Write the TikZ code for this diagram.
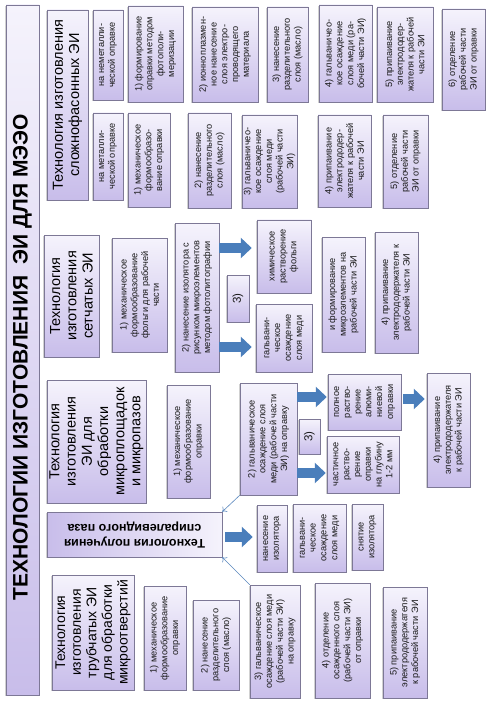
\documentclass[tikz,border=0pt]{standalone}
\usepackage{fontspec}
\setmainfont{Liberation Sans}
\usetikzlibrary{arrows.meta,shadows}
\definecolor{boxlight}{RGB}{245,243,252}
\definecolor{boxdark}{RGB}{200,189,234}
\definecolor{boxline}{RGB}{125,120,150}
\definecolor{arrowblue}{RGB}{74,126,187}
\definecolor{thinblue}{RGB}{90,135,190}
\definecolor{txt}{RGB}{25,25,25}
\tikzset{
  boxbase/.style={draw=boxline, line width=0.5pt, inner sep=0.5pt, align=center, text=txt,
    drop shadow={shadow xshift=-1pt, shadow yshift=-1.2pt, fill=black, opacity=0.18}},
  bx/.style={boxbase, rotate=90, top color=boxlight, bottom color=boxdark,
    font=\fontsize{9.2}{10.8}\selectfont},
  hdr/.style={bx, font=\fontsize{14.5}{16.2}\selectfont, text=black},
  blockarrow/.style={draw=arrowblue, line width=10pt, -{Triangle[length=11pt,width=20pt]}},
  thinarrow/.style={draw=thinblue, line width=0.6pt, -{To[length=4pt,width=7pt]}}
}
\newcommand\bx[7][bx]{\node[#1,minimum width={(#6-#5)*1pt},minimum height={(#4-#3)*1pt}] (#2) at ({(#3+#4)/2},{-(#5+#6)/2}) {#7};}
\begin{document}
\begin{tikzpicture}[x=1pt,y=1pt]
\useasboundingbox (0,0) rectangle (490,-703);
\fill[white] (0,0) rectangle (490,-703);

% title
\bx[hdr,font=\bfseries\fontsize{21}{24}\selectfont]{title}{6}{39}{5}{695}{ТЕХНОЛОГИИ ИЗГОТОВЛЕНИЯ\ \ ЭИ ДЛЯ МЭЭО\hspace*{14pt}}

% complex-shaped
\bx[hdr]{h1}{47}{88}{10}{200}{Технология изготовления\\сложнофасонных ЭИ}
\bx{a1}{93}{123}{10}{100}{на неметалли-\\ческой оправке}
\bx{a2}{128}{183}{6}{102}{1) формирование\\оправки методом\\фотополи-\\меризации}
\bx{a3}{192}{258}{7}{102}{2) ионноплазмен-\\ное нанесение\\слоя электро-\\проводящего\\материала}
\bx{a4}{267}{308}{7}{102}{3) нанесение\\разделительного\\слоя (масло)}
\bx{a5}{319}{372}{5}{102}{4) гальваничео-\\кое осаждение\\слоя меди (ра-\\бочей части ЭИ)}
\bx{a6}{377}{433}{7}{102}{5) припаивание\\электрододер-\\жателя к рабочей\\части ЭИ}
\bx{a7}{442}{485}{9}{110}{6) отделение\\рабочей части\\ЭИ от оправки}

\bx{b1}{93}{123}{113}{200}{на металли-\\ческой оправке}
\bx{b2}{128}{170}{113}{207}{1) механическое\\формообразо-\\вание оправки}
\bx{b3}{188}{231}{113}{208}{2) нанесение\\разделительного\\слоя (масло)}
\bx{b4}{242}{297}{115}{208}{3) гальваничео-\\кое осаждение\\слоя меди\\(рабочей части\\ЭИ)}
\bx{b5}{318}{371}{115}{207}{4) припаивание\\электрододер-\\жателя к рабочей\\части ЭИ}
\bx{b6}{383}{428}{115}{208}{5) отделение\\рабочей части\\ЭИ от оправки}

% mesh
\bx[hdr]{h2}{44}{99}{235}{357}{Технология\\изготовления\\сетчатых ЭИ}
\bx{s1}{112}{167}{238}{352}{1) механическое\\формообразование\\фольги для рабочей\\части}
\bx{s2}{175}{219}{223}{372}{2) нанесение изолятора с\\рисунком микроэлементов\\методом фотолитографии}
\bx[bx,font=\fontsize{11.5}{13}\selectfont]{s3}{227}{249}{275}{322}{3)}
\bx{s4}{257}{311}{220}{293}{химическое\\растворение\\фольги}
\bx{s5}{256}{312}{304}{372}{гальвани-\\ческое\\осаждение\\слоя меди}
\bx{s6}{322}{365}{237}{352}{и формирование\\микроэлементов на\\рабочей части ЭИ}
\bx{s7}{375}{418}{232}{353}{4) припаивание\\электрододержателя к\\рабочей части ЭИ}

% micro areas
\bx[hdr]{h3}{47}{146}{380}{503}{Технология\\изготовления\\ЭИ для\\обработки\\микроплощадок\\и микропазов}
\bx{m1}{167}{210}{385}{498}{1) механическое\\формообразование\\оправки}
\bx{m2}{240}{297}{383}{495}{2) гальваническое\\осаждение слоя\\меди (рабочей части\\ЭИ) на оправку}
\bx[bx,font=\fontsize{11.5}{13}\selectfont]{m3}{299}{320}{419}{454}{3)}
\bx{m4}{328}{401}{374}{430}{полное\\раство-\\рение\\алюми-\\ниевой\\оправки}
\bx{m5}{327}{399}{436}{493}{частичное\\раство-\\рение\\оправки\\на глубину\\1-2 мм}
\bx{m6}{427}{470}{373}{487}{4) припаивание\\электрододержателя\\к рабочей части ЭИ}

% spiral
\node[boxbase, rotate=180, left color=boxdark, right color=boxlight,
  font=\bfseries\fontsize{12.5}{15}\selectfont, text=black,
  minimum width=175pt, minimum height=45pt] (sp) at (134.5,-534.5)
  {Технология получения\\спиралевидного паза};
\bx{p1}{257}{287}{505}{572}{нанесение\\изолятора}
\bx{p2}{293}{346}{504}{572}{гальвани-\\ческое\\осаждение\\слоя меди}
\bx{p3}{352}{383}{504}{570}{снятие\\изолятора}

% tubular
\bx[hdr,font=\fontsize{14}{15.6}\selectfont]{h4}{52}{134}{575}{690}{Технология\\изготовления\\трубчатых ЭИ\\для обработки\\микроотверстий}
\bx{t1}{144}{186}{586}{690}{1) механическое\\формообразование\\оправки}
\bx{t2}{193}{239}{600}{690}{2) нанесение\\разделительного\\слоя (масло)}
\bx{t3}{250}{300}{585}{698}{3) гальваническое\\осаждение слоя меди\\(рабочей части ЭИ)\\на оправку}
\bx{t4}{315}{370}{583}{698}{4) отделение\\осажденного слоя\\(рабочей части ЭИ)\\от оправки}
\bx{t5}{383}{427}{587}{698}{5) припаивание\\электрододержателя\\к рабочей части ЭИ}

% block arrows
\draw[blockarrow] (s2.south |- 0,-248) -- ([xshift=-5pt]s4.north |- 0,-248);
\draw[blockarrow] (s2.south |- 0,-347) -- ([xshift=-4pt]s5.north |- 0,-347);
\draw[blockarrow] (m2.south |- 0,-397) -- ([xshift=-1pt]m4.north |- 0,-397);
\draw[blockarrow] (m2.south |- 0,-473) -- ([xshift=-1pt]m5.north |- 0,-473);
\draw[blockarrow] ([xshift=2pt]m4.south |- 0,-399) -- ([xshift=-2pt]m6.north |- 0,-399);
\draw[blockarrow] ([xshift=3pt]sp.west |- 0,-537) -- ([xshift=-4pt]p1.north |- 0,-537);

% thin arrows
\draw[thinarrow] (m2.north west) -- (sp.south west);
\draw[thinarrow] (t3.north east) -- (sp.north west);
\end{tikzpicture}
\end{document}
